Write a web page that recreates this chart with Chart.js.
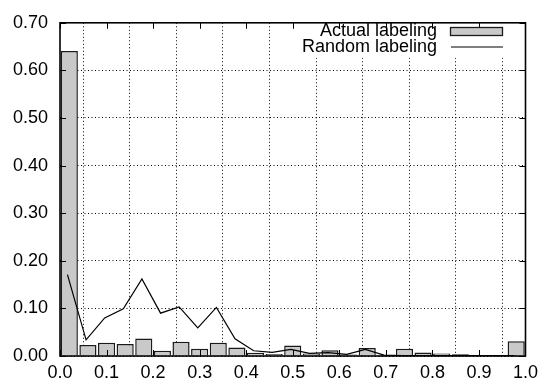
<!DOCTYPE html>
<html>
<head>
<meta charset="utf-8">
<script src="https://cdn.jsdelivr.net/npm/chart.js@4/dist/chart.umd.min.js"></script>
<style>
html,body{margin:0;padding:0;background:#fff;}
#wrap{width:544px;height:384px;}
</style>
</head>
<body>
<div id="wrap"><canvas id="c" width="544" height="384"></canvas></div>
<script>
// ---- data ----
const binCenters = [0.02,0.06,0.10,0.14,0.18,0.22,0.26,0.30,0.34,0.38,0.42,0.46,0.50,0.54,0.58,0.62,0.66,0.70,0.74,0.78,0.82,0.86,0.90,0.94,0.98];
const actualLabeling = [0.641,0.023,0.028,0.025,0.037,0.011,0.030,0.015,0.028,0.018,0.007,0.004,0.022,0.005,0.012,0.003,0.017,0.002,0.015,0.0075,0.0055,0.0035,0.001,0.0005,0.031];
const lineX = [0.016,0.056,0.096,0.136,0.176,0.216,0.256,0.296,0.336,0.376,0.416,0.456,0.496,0.536,0.576,0.616,0.656,0.696,0.736,0.776,0.816,0.856,0.896,0.936,0.976];
const randomLabeling = [0.171,0.034,0.080,0.099,0.162,0.090,0.103,0.059,0.102,0.036,0.011,0.0075,0.014,0.0055,0.007,0.0035,0.014,0.002,0.001,0.001,0.001,0.001,0.001,0.001,0.001];
const seriesNames = ["Actual labeling","Random labeling"];
const xTickValues = [0,0.1,0.2,0.3,0.4,0.5,0.6,0.7,0.8,0.9,1.0];
const yTickValues = [0,0.1,0.2,0.3,0.4,0.5,0.6,0.7];

const FONT = "'Liberation Sans', Arial, sans-serif";

const framePlugin = {
  id: 'frame',
  beforeDatasetsDraw(chart) {
    // opaque key box (hides the grid behind the legend)
    const {ctx, chartArea: a} = chart;
    ctx.save();
    ctx.fillStyle = '#fff';
    ctx.fillRect(296, a.top, a.right - 296, 58 - a.top);
    ctx.restore();
  },
  afterDatasetsDraw(chart) {
    const {ctx, chartArea: a, scales} = chart;
    ctx.save();
    ctx.strokeStyle = '#000';
    // inward ticks (mirror on all sides)
    ctx.lineWidth = 1;
    const tl = 6;
    ctx.beginPath();
    xTickValues.forEach(v => {
      const px = Math.round(scales.x.getPixelForValue(v)) + 0.5;
      ctx.moveTo(px, a.bottom); ctx.lineTo(px, a.bottom - tl);
      ctx.moveTo(px, a.top); ctx.lineTo(px, a.top + tl);
    });
    yTickValues.forEach(v => {
      const py = Math.round(scales.y.getPixelForValue(v)) + 0.5;
      ctx.moveTo(a.left, py); ctx.lineTo(a.left + tl, py);
      ctx.moveTo(a.right, py); ctx.lineTo(a.right - tl, py);
    });
    ctx.stroke();
    // frame
    ctx.lineWidth = 1.6;
    ctx.strokeRect(a.left, a.top, a.right - a.left, a.bottom - a.top);

    // legend (gnuplot style: text right-aligned, sample to the right)
    const ds = chart.data.datasets;
    ctx.font = '18px ' + FONT;
    ctx.fillStyle = '#000';
    ctx.textAlign = 'right';
    ctx.textBaseline = 'middle';
    const textRight = 437;
    const rows = [31, 47];
    // row 1: bar sample
    ctx.fillText(ds[0].label, textRight, rows[0] + 0.5);
    ctx.fillStyle = ds[0].backgroundColor;
    ctx.fillRect(450.5, rows[0] - 3.5, 52, 8);
    ctx.lineWidth = 1.3;
    ctx.strokeStyle = ds[0].borderColor;
    ctx.strokeRect(450.5, rows[0] - 3.5, 52, 8);
    // row 2: line sample
    ctx.fillStyle = '#000';
    ctx.fillText(ds[1].label, textRight, rows[1] + 0.5);
    ctx.strokeStyle = ds[1].borderColor;
    ctx.lineWidth = 1.2;
    ctx.beginPath();
    ctx.moveTo(451, rows[1]); ctx.lineTo(503, rows[1]);
    ctx.stroke();
    ctx.restore();
  }
};

new Chart(document.getElementById('c'), {
  type: 'bar',
  data: {
    datasets: [
      {
        type: 'bar',
        label: seriesNames[0],
        data: binCenters.map((x, i) => ({x: x, y: actualLabeling[i]})),
        backgroundColor: '#c9c9c9',
        borderColor: '#1a1a1a',
        borderWidth: 1.5,
        barPercentage: 0.92,
        categoryPercentage: 1.0,
        order: 2
      },
      {
        type: 'line',
        label: seriesNames[1],
        data: lineX.map((x, i) => ({x: x, y: randomLabeling[i]})),
        borderColor: '#000',
        borderWidth: 1.2,
        pointRadius: 0,
        tension: 0,
        fill: false,
        order: 1
      }
    ]
  },
  options: {
    responsive: false,
    animation: false,
    devicePixelRatio: 1,
    layout: {padding: {left: 0, right: 18, top: 14, bottom: 0}},
    plugins: {legend: {display: false}, tooltip: {enabled: false}},
    scales: {
      x: {
        type: 'linear',
        min: 0, max: 1,
        offset: false,
        afterFit(s) { s.height = 28; },
        afterBuildTicks(s) { s.ticks = xTickValues.map(v => ({value: v})); },
        ticks: {
          font: {family: FONT, size: 18},
          color: '#000',
          padding: 6,
          maxRotation: 0,
          autoSkip: false,
          callback: v => Number(v).toFixed(1)
        },
        grid: {color: '#000', lineWidth: 1, drawTicks: false},
        border: {display: false, dash: [1, 2.5]}
      },
      y: {
        min: 0, max: 0.7,
        afterFit(s) { s.width = 60; },
        afterBuildTicks(s) { s.ticks = yTickValues.map(v => ({value: v})); },
        ticks: {
          font: {family: FONT, size: 18},
          color: '#000',
          padding: 12,
          callback: v => Number(v).toFixed(2)
        },
        grid: {color: '#000', lineWidth: 1, drawTicks: false},
        border: {display: false, dash: [1, 2.5]}
      }
    }
  },
  plugins: [framePlugin]
});
</script>
</body>
</html>
